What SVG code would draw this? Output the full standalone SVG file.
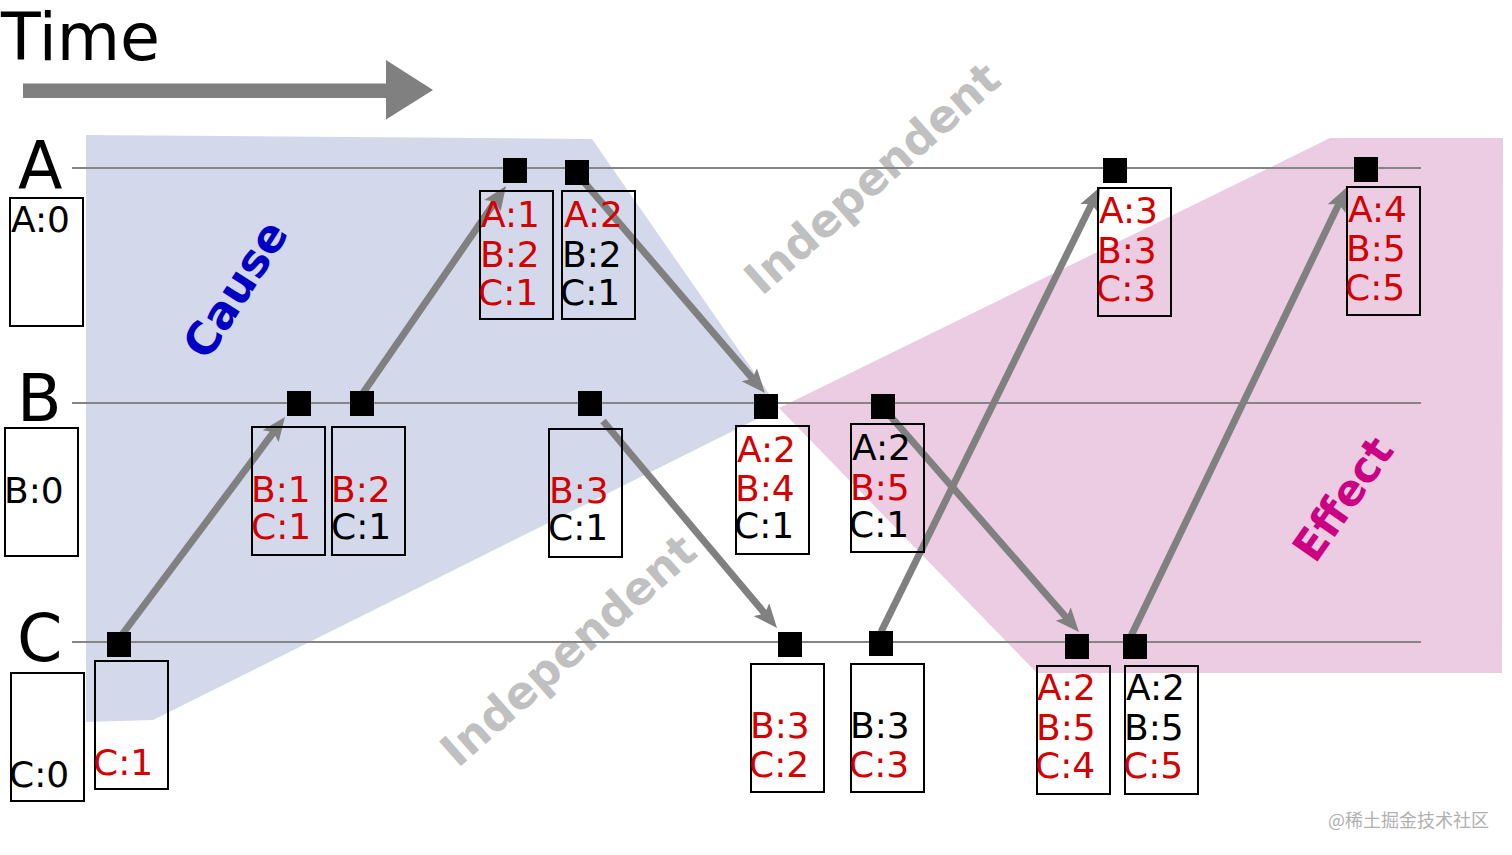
<svg xmlns="http://www.w3.org/2000/svg" width="1512" height="855" viewBox="0 0 1512 855">
<style>
.lbl{font-family:"DejaVu Sans",sans-serif;font-size:65px;fill:#000}
.t{font-family:"DejaVu Sans",sans-serif;font-size:36px;fill:#000}
.r{fill:#d40000}
.box{fill:none;stroke:#000;stroke-width:2}
.ev{fill:#000}
.tl{stroke:#858585;stroke-width:2}
.arr{stroke:#808080;stroke-width:7;fill:none;marker-end:url(#ah)}
.big{font-family:"DejaVu Sans",sans-serif;font-weight:bold;text-anchor:middle}
</style>
<defs>
<marker id="ah" markerUnits="userSpaceOnUse" viewBox="0 0 24 20" markerWidth="24" markerHeight="20" refX="5" refY="10" orient="auto">
<path d="M0,0 L24,10 L0,20 L5,10 Z" fill="#808080"/>
</marker>
</defs>
<rect width="1512" height="855" fill="#fff"/>
<g id="regions">
<polygon points="86,135 592,139 779,408 153,720 86,722" fill="#d4d8eb"/>
<polygon points="779,408 1330,138 1503,138 1502,673 1037,673" fill="#ebcce2"/>
</g>
<g id="time">
<text x="1" y="60" class="lbl" style="font-size:65px">Time</text>
<polygon points="23,83.5 386,83.5 386,60 433,90 386,119.5 386,98 23,98" fill="#808080"/>
</g>
<g id="labels">
<text class="big" transform="translate(235,289) rotate(-57.5)" y="16" style="font-size:45px;fill:#0000c4">Cause</text>
<text class="big" transform="translate(1343,499) rotate(-55)" y="15" style="font-size:43px;fill:#cc0083">Effect</text>
<text class="big" transform="translate(872,178) rotate(-41.5)" y="16" style="font-size:45px;fill:#c0c0c0">Independent</text>
<text class="big" transform="translate(568,650) rotate(-41.5)" y="16" style="font-size:45px;fill:#c0c0c0">Independent</text>
</g>
<g id="timelines">
<line x1="72" y1="168" x2="1421" y2="168" class="tl"/>
<line x1="72" y1="403" x2="1421" y2="403" class="tl"/>
<line x1="72" y1="642" x2="1421" y2="642" class="tl"/>
<text x="18" y="188" class="lbl">A</text>
<text x="17" y="421" class="lbl">B</text>
<text x="17" y="661" class="lbl">C</text>
</g>
<g id="connectors">
<line x1="118" y1="640" x2="273.6" y2="432.2" class="arr"/>
<line x1="363" y1="393" x2="495.2" y2="201.6" class="arr"/>
<line x1="578" y1="175" x2="752.6" y2="378.6" class="arr"/>
<line x1="603" y1="421" x2="764.8" y2="613.5" class="arr"/>
<line x1="881" y1="632" x2="1091.6" y2="204" class="arr"/>
<line x1="885" y1="410" x2="1066.5" y2="617.7" class="arr"/>
<line x1="1131" y1="636" x2="1338.8" y2="204.1" class="arr"/>
</g>
<g id="nA0"><rect x="10" y="198" width="73" height="128" class="box"/><text x="11" y="232" class="t">A:0</text></g>
<g id="nB0"><rect x="5" y="428" width="73" height="128" class="box"/><text x="4" y="503" class="t">B:0</text></g>
<g id="nC0"><rect x="11" y="673" width="73" height="128" class="box"/><text x="9" y="787" class="t">C:0</text></g>
<g id="nC1"><rect x="107" y="632" width="24" height="25" class="ev"/><rect x="95" y="661" width="73" height="128" class="box"/><text x="93" y="775" class="t r">C:1</text></g>
<g id="nB1"><rect x="287" y="391" width="24" height="25" class="ev"/><rect x="252" y="427" width="73" height="128" class="box"/><text x="251" y="502" class="t r">B:1</text><text x="251" y="539" class="t r">C:1</text></g>
<g id="nB2"><rect x="350" y="391" width="24" height="25" class="ev"/><rect x="332" y="427" width="73" height="128" class="box"/><text x="331" y="502" class="t r">B:2</text><text x="331" y="539" class="t">C:1</text></g>
<g id="nA1"><rect x="503" y="158" width="24" height="25" class="ev"/><rect x="480" y="191" width="73" height="128" class="box"/><text x="481" y="227" class="t r">A:1</text><text x="480" y="267" class="t r">B:2</text><text x="478" y="305" class="t r">C:1</text></g>
<g id="nA2"><rect x="565" y="160" width="24" height="25" class="ev"/><rect x="562" y="191" width="73" height="128" class="box"/><text x="564" y="227" class="t r">A:2</text><text x="562" y="267" class="t">B:2</text><text x="560" y="305" class="t">C:1</text></g>
<g id="nB3"><rect x="578" y="391" width="24" height="25" class="ev"/><rect x="549" y="429" width="73" height="128" class="box"/><text x="549" y="503" class="t r">B:3</text><text x="548" y="540" class="t">C:1</text></g>
<g id="nB4"><rect x="754" y="394" width="24" height="25" class="ev"/><rect x="736" y="426" width="73" height="128" class="box"/><text x="737" y="462" class="t r">A:2</text><text x="735" y="501" class="t r">B:4</text><text x="734" y="538" class="t">C:1</text></g>
<g id="nB5"><rect x="871" y="394" width="24" height="25" class="ev"/><rect x="851" y="424" width="73" height="128" class="box"/><text x="852" y="460" class="t">A:2</text><text x="850" y="500" class="t r">B:5</text><text x="849" y="537" class="t">C:1</text></g>
<g id="nC2"><rect x="778" y="632" width="24" height="25" class="ev"/><rect x="751" y="664" width="73" height="128" class="box"/><text x="750" y="738" class="t r">B:3</text><text x="749" y="777" class="t r">C:2</text></g>
<g id="nC3"><rect x="869" y="631" width="24" height="25" class="ev"/><rect x="851" y="664" width="73" height="128" class="box"/><text x="850" y="738" class="t">B:3</text><text x="849" y="777" class="t r">C:3</text></g>
<g id="nC4"><rect x="1065" y="634" width="24" height="25" class="ev"/><rect x="1037" y="666" width="73" height="128" class="box"/><text x="1037" y="700" class="t r">A:2</text><text x="1036" y="740" class="t r">B:5</text><text x="1035" y="778" class="t r">C:4</text></g>
<g id="nC5"><rect x="1123" y="634" width="24" height="25" class="ev"/><rect x="1125" y="666" width="73" height="128" class="box"/><text x="1126" y="700" class="t">A:2</text><text x="1124" y="740" class="t">B:5</text><text x="1123" y="778" class="t r">C:5</text></g>
<g id="nA3"><rect x="1103" y="158" width="24" height="25" class="ev"/><rect x="1098" y="188" width="73" height="128" class="box"/><text x="1099" y="223" class="t r">A:3</text><text x="1097" y="263" class="t r">B:3</text><text x="1096" y="301" class="t r">C:3</text></g>
<g id="nA4"><rect x="1354" y="157" width="24" height="25" class="ev"/><rect x="1347" y="187" width="73" height="128" class="box"/><text x="1348" y="222" class="t r">A:4</text><text x="1346" y="261" class="t r">B:5</text><text x="1345" y="300" class="t r">C:5</text></g>
<text x="1328" y="827" style="font-family:'Noto Sans CJK SC',sans-serif;font-size:18px;fill:#b0b0b0">@稀土掘金技术社区</text>
</svg>
